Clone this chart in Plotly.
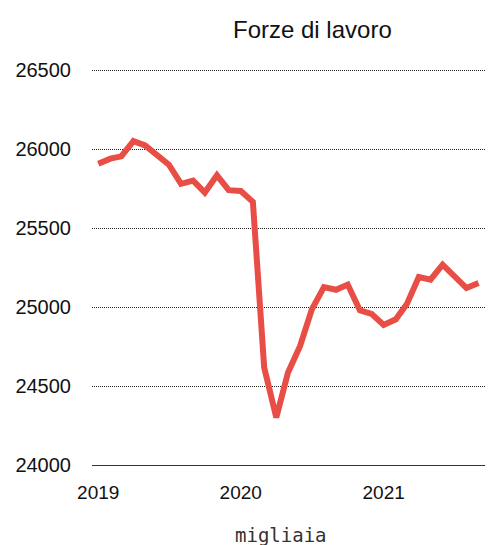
import plotly.graph_objects as go
import pandas as pd

months = pd.date_range("2019-01-01", "2021-09-01", freq="MS")
values = [25907, 25939, 25954, 26050, 26023, 25960, 25901, 25780, 25800, 25725,
          25834, 25740, 25735, 25666, 24617, 24300, 24586, 24754, 24985, 25126,
          25109, 25142, 24979, 24957, 24886, 24922, 25017, 25190, 25173, 25268,
          25198, 25120, 25152]
y_ticks = [24000, 24500, 25000, 25500, 26000, 26500]
y_labels = ["24000", "24500", "25000", "25500", "26000", "26500"]
x_ticks = ["2019-01-01", "2020-01-01", "2021-01-01"]
x_labels = ["2019", "2020", "2021"]

font = "Liberation Sans"

fig = go.Figure()
fig.add_trace(go.Scatter(
    x=months, y=values, mode="lines",
    line=dict(color="#e84e45", width=6),
    hoverinfo="skip",
))

# page body has an 8px default margin, so the figure is sized to fit the window
fig.update_layout(
    width=485, height=537,
    margin=dict(l=84, r=0, t=60, b=80),
    plot_bgcolor="white", paper_bgcolor="white",
    showlegend=False,
    font=dict(family=font, color="#111", size=20),
    xaxis=dict(
        range=["2018-12-16", "2021-10-08"],
        tickvals=x_ticks, ticktext=x_labels,
        showgrid=False, zeroline=False,
        showline=True, linecolor="#333", linewidth=1,
        ticks="", ticklabelstandoff=10,
        tickfont=dict(size=19, family=font),
        automargin=False,
    ),
    yaxis=dict(
        range=[24000, 26513],
        tickvals=y_ticks, ticktext=y_labels,
        showgrid=True, gridcolor="#222", griddash="1px,1px", gridwidth=1,
        zeroline=False, showline=False,
        ticks="", ticklabelstandoff=20,
        tickfont=dict(size=20, family=font),
        automargin=False,
    ),
    annotations=[
        dict(text="Forze di lavoro", xref="paper", yref="paper",
             x=0.551, y=1.098, xanchor="center", yanchor="middle",
             showarrow=False, font=dict(size=24, family=font, color="#111")),
        dict(text="migliaia", xref="paper", yref="paper",
             x=0.471, y=-0.176, xanchor="center", yanchor="middle",
             showarrow=False, font=dict(size=19, family="DejaVu Sans Mono", color="#333")),
    ],
)

fig.write_html("out.html")
